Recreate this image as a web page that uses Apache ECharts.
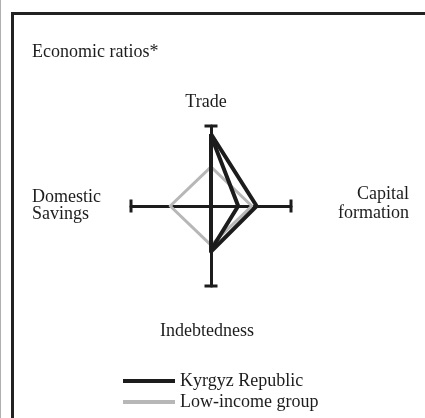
<!DOCTYPE html>
<html>
<head>
<meta charset="utf-8">
<script src="https://cdn.jsdelivr.net/npm/echarts@6/dist/echarts.min.js"></script>
<style>
  html, body { margin: 0; padding: 0; background: #fff; }
  #chart { width: 425px; height: 418px; }
</style>
</head>
<body>
<div id="chart"></div>
<script>
// indicator order goes counter-clockwise from the top
var indicators = ["Trade", "Domestic\nSavings", "Indebtedness", "Capital\nformation"];
var maxValue = 100;

var kyrgyzA = [90, 0, 57, 57];
var kyrgyzB = [88, 0, 55, 34];
var lowIncome = [49, 51, 49, 51];

var seriesNames = ["Kyrgyz Republic", "Low-income group"];

var ink = "#1c1c1c";
var grey = "#b7b7b7";
var font = "'Liberation Serif', 'Times New Roman', serif";

var chart = echarts.init(document.getElementById("chart"));

function label(text, x, y, align, lh) {
  return {
    type: "text",
    x: x,
    y: y,
    style: {
      text: text,
      align: align,
      verticalAlign: "middle",
      font: "18px " + font,
      lineHeight: lh || 18,
      fill: ink
    }
  };
}

var option = {
  animation: false,
  backgroundColor: "#fff",
  radar: {
    center: [211, 206],
    radius: 80,
    startAngle: 90,
    shape: "polygon",
    indicator: indicators.map(function (n) {
      return { name: n, min: 0, max: maxValue };
    }),
    axisName: { show: false },
    splitLine: { show: false },
    splitArea: { show: false },
    axisLine: {
      symbol: ["none", "rect"],
      symbolSize: [13, 3],
      lineStyle: { color: ink, width: 3 }
    }
  },
  legend: {
    data: seriesNames,
    orient: "vertical",
    left: 123,
    top: 372,
    padding: 0,
    itemWidth: 52,
    itemHeight: 4,
    itemGap: 3,
    icon: "rect",
    selectedMode: false,
    textStyle: { fontFamily: font, fontSize: 18, color: ink }
  },
  series: [
    {
      type: "radar",
      symbol: "none",
      data: [
        {
          name: seriesNames[1],
          value: lowIncome,
          lineStyle: { color: grey, width: 3 },
          itemStyle: { color: grey }
        },
        {
          name: seriesNames[0],
          value: kyrgyzB,
          lineStyle: { color: ink, width: 4 },
          itemStyle: { color: ink }
        },
        {
          name: seriesNames[0],
          value: kyrgyzA,
          lineStyle: { color: ink, width: 4 },
          itemStyle: { color: ink }
        }
      ]
    }
  ],
  graphic: [
    // frame
    {
      type: "polyline",
      shape: { points: [[12.5, 418], [12.5, 13.5], [425, 13.5]] },
      style: { stroke: "#222", lineWidth: 3, fill: null }
    },
    {
      type: "line",
      shape: { x1: 0.5, y1: 0, x2: 0.5, y2: 418 },
      style: { stroke: "#b0b0b0", lineWidth: 1 }
    },
    label("Economic ratios*", 32, 52, "left"),
    label(indicators[0], 206, 102, "center"),
    label(indicators[3], 409, 204, "right", 19),
    label(indicators[1], 32, 206, "left", 17),
    label(indicators[2], 207, 331, "center")
  ]
};

chart.setOption(option);
window.onresize = function () {
  chart.resize();
};
</script>
</body>
</html>
